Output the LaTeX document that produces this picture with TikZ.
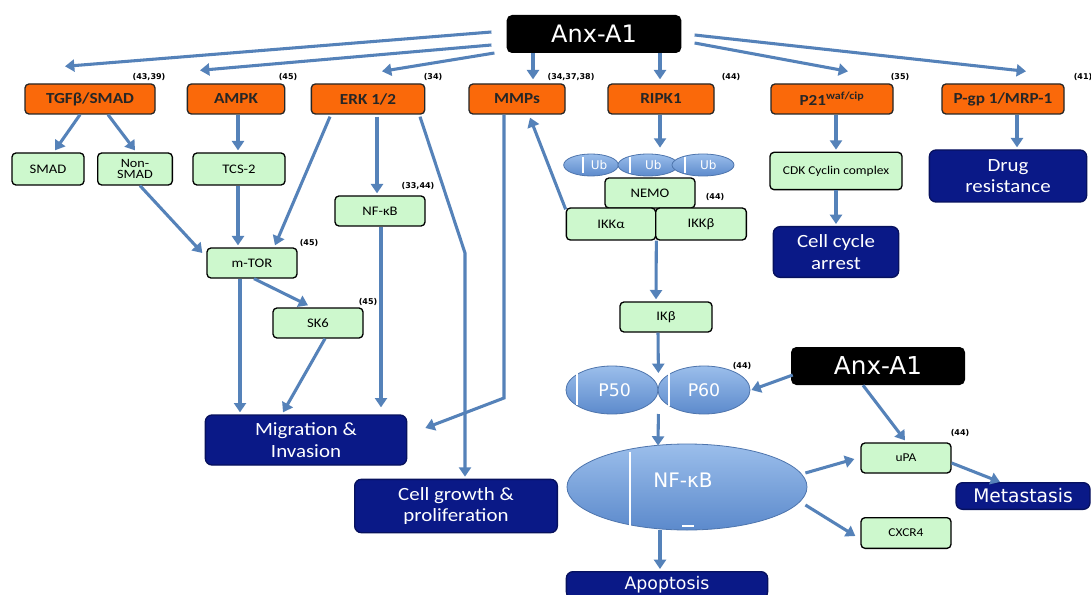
\documentclass[tikz,border=0pt]{standalone}
\usepackage{fontspec}
\setmainfont[FakeStretch=1.12]{Carlito}
\newfontfamily\dv{DejaVu Sans}
\usetikzlibrary{arrows.meta,shapes.geometric}
\definecolor{arr}{RGB}{85,130,185}
\definecolor{org}{RGB}{250,105,10}
\definecolor{grn}{RGB}{205,248,205}
\definecolor{navy}{RGB}{10,25,135}
\definecolor{ellt}{RGB}{155,190,235}
\definecolor{ellb}{RGB}{92,138,204}
\begin{document}
\begin{tikzpicture}[x=0.75pt,y=-0.75pt,
 ob/.style={draw=black!85, line width=1pt, rounded corners=3pt, fill=org, font=\bfseries\fontsize{11.5}{12}\selectfont, text=black!85, inner sep=0pt, minimum height=22.5pt},
 gb/.style={draw=black, line width=1pt, rounded corners=3pt, fill=grn, font=\fontsize{9.8}{9.8}\selectfont, inner sep=0pt, align=center},
 nb/.style={draw=navy!70!black, line width=1pt, rounded corners=5pt, fill=navy, text=white, font=\fontsize{14}{16}\selectfont, align=center, inner sep=0pt},
 kb/.style={fill=black, rounded corners=4pt, text=white, font=\dv\fontsize{18}{20}\selectfont, inner sep=0pt},
 el/.style={ellipse, draw=ellb!85!black, line width=0.6pt, top color=ellt, bottom color=ellb, text=white, inner sep=0pt},
 ref/.style={font=\dv\bfseries\fontsize{6}{6.5}\selectfont, inner sep=0pt},
 wl/.style={draw=white, line width=1pt},
 ar/.style={draw=arr, line width=2.3pt, -{Triangle[width=9pt,length=7pt]}},
]
\useasboundingbox (0,0) rectangle (1091,595);
\clip (0,0) rectangle (1091,595);
\fill[white] (0,0) rectangle (1091,595);

% top row
\node[kb, minimum width=131pt, minimum height=28.5pt] (anx1) at (594,34) {Anx-A1};
\node[ob, minimum width=97.5pt] (tgf) at (90,99) {TGFβ/SMAD};
\node[ob, minimum width=73pt] (ampk) at (236,99) {AMPK};
\node[ob, minimum width=85pt] (erk) at (368,99) {ERK 1/2};
\node[ob, minimum width=72pt] (mmp) at (517,99) {MMPs};
\node[ob, minimum width=79.5pt] (ripk) at (661,99) {RIPK1};
\node[ob, minimum width=91.5pt] (p21) at (832,99) {P21\textsuperscript{waf/cip}};
\node[ob, minimum width=91.5pt] (pgp) at (1003,99) {P-gp 1/MRP-1};

% references
\node[ref] (r1) at (149,77) {(43,39)};
\node[ref] (r2) at (288,77) {(45)};
\node[ref] (r3) at (433,77) {(34)};
\node[ref] (r4) at (571,77) {(34,37,38)};
\node[ref] (r5) at (731,77) {(44)};
\node[ref] (r6) at (900,77) {(35)};
\node[ref] (r7) at (1083,77) {(41)};
\node[ref] (r8) at (418,186) {(33,44)};
\node[ref] (r9) at (309,243) {(45)};
\node[ref] (r10) at (368,302) {(45)};
\node[ref] (r11) at (715,197) {(44)};
\node[ref] (r12) at (742,366) {(44)};
\node[ref] (r13) at (960,433) {(44)};

% green boxes
\node[gb, minimum width=54pt, minimum height=24pt] (smad) at (48,169) {SMAD};
\node[gb, minimum width=56pt, minimum height=24pt, font=\fontsize{9.5}{8.5}\selectfont] (nonsmad) at (135,169) {Non-\\SMAD};
\node[gb, minimum width=69pt, minimum height=24pt] (tcs) at (239,169) {TCS-2};
\node[gb, minimum width=67.5pt, minimum height=22.5pt] (nfkbg) at (380,211) {NF-κB};
\node[gb, minimum width=67.5pt, minimum height=22.5pt] (mtor) at (252,263) {m-TOR};
\node[gb, minimum width=67.5pt, minimum height=22.5pt] (sk6) at (318,323) {SK6};
\node[gb, minimum width=99pt, minimum height=28pt, font=\fontsize{9}{9}\selectfont] (cdk) at (836,171) {CDK Cyclin complex};

% Ub chain
\node[el, minimum width=41pt, minimum height=16.5pt, font=\dv\fontsize{9}{9}\selectfont] (ub1) at (591,165) {\hspace*{12pt}Ub};
\node[el, minimum width=45pt, minimum height=16.5pt, font=\dv\fontsize{9}{9}\selectfont] (ub2) at (648,165) {\hspace*{8pt}Ub};
\node[el, minimum width=46.5pt, minimum height=16.5pt, font=\dv\fontsize{9}{9}\selectfont] (ub3) at (703,165) {\hspace*{8pt}Ub};
\draw[wl] (583,157) -- (583,173);
\draw[wl] (630,157) -- (630,173);
\draw[wl] (685,157) -- (685,173);
\node[gb, minimum width=67.5pt, minimum height=22.5pt] (nemo) at (650,193) {NEMO};
\node[gb, minimum width=67pt, minimum height=24pt] (ikka) at (611,224) {IKKα};
\node[gb, minimum width=68pt, minimum height=24pt] (ikkb) at (701,224) {IKKβ};
\node[gb, minimum width=69pt, minimum height=22.5pt] (ikb) at (666,317) {IKβ};

% P50 / P60 / NF-kB
\node[el, minimum width=69pt, minimum height=36pt, font=\dv\fontsize{13}{14}\selectfont] (p50) at (612,390) {\hspace*{4pt}P50};
\node[el, minimum width=69pt, minimum height=36pt, font=\dv\fontsize{13}{14}\selectfont] (p60) at (704,390) {P60};
\draw[wl] (577,372) -- (577,405);
\draw[wl] (669,373) -- (669,406);
\node[el, minimum width=180pt, minimum height=64.5pt] (nfkb) at (687,487) {};
\node[text=white, font=\dv\fontsize{15}{16}\selectfont, inner sep=0pt] (nfkbt) at (683,480) {NF-κB};
\draw[wl] (630,452) -- (630,526);
\draw[wl] (682,526) -- (694,526);

\node[gb, minimum width=67.5pt, minimum height=22.5pt, font=\fontsize{9}{9}\selectfont] (upa) at (906,458) {uPA};
\node[gb, minimum width=67.5pt, minimum height=23pt, font=\fontsize{9}{9}\selectfont] (cxcr) at (906,533) {CXCR4};
\node[kb, minimum width=130.5pt, minimum height=28.5pt, font=\dv\fontsize{18.5}{20}\selectfont] (anx2) at (878,366) {Anx-A1};

% outcome boxes
\node[nb, minimum width=118pt, minimum height=39pt] (drug) at (1008,176) {Drug\\resistance};
\node[nb, minimum width=94pt, minimum height=38pt] (cca) at (836,252) {Cell cycle\\arrest};
\node[nb, minimum width=151pt, minimum height=37.5pt] (mig) at (306,440) {Migration \&\\Invasion};
\node[nb, minimum width=152pt, minimum height=40pt] (cgp) at (456,506) {Cell growth \&\\proliferation};
\node[nb, minimum width=100.5pt, minimum height=20pt, font=\dv\fontsize{14}{15}\selectfont] (meta) at (1023,496) {Metastasis};
\node[nb, minimum width=151pt, minimum height=20pt, font=\dv\fontsize{13}{14}\selectfont] (apop) at (667,585) {Apoptosis};

% arrows from Anx-A1
\draw[ar] ([shift={(-15,-2)}]anx1.west) -- ([shift={(-25,-17)}]tgf.north);
\draw[ar] ([shift={(-15,11)}]anx1.west) -- ([shift={(-36,-13)}]ampk.north);
\draw[ar] ([shift={(-12,19)}]anx1.west) -- ([shift={(14,-12)}]erk.north);
\draw[ar] ([shift={(-61,0)}]anx1.south) -- ([shift={(16,-4)}]mmp.north);
\draw[ar] ([shift={(66,0)}]anx1.south) -- ([shift={(-1,-4)}]ripk.north);
\draw[ar] ([shift={(13,9)}]anx1.east) -- ([shift={(16,-12)}]p21.north);
\draw[ar] ([shift={(13,1)}]anx1.east) -- ([shift={(23,-12)}]pgp.north);

% left branch
\draw[ar] ([shift={(-10,0)}]tgf.south) -- ([shift={(7,-2)}]smad.north);
\draw[ar] ([shift={(18,0)}]tgf.south) -- ([shift={(0,-2)}]nonsmad.north);
\draw[ar] ([shift={(2,0)}]ampk.south) -- ([shift={(-1,-2)}]tcs.north);
\draw[ar] ([shift={(-38,2)}]erk.south) -- ([shift={(23,-2)}]mtor.north);
\draw[ar] ([shift={(9,2)}]erk.south) -- ([shift={(-3,-2)}]nfkbg.north);
\draw[ar] ([shift={(52,2)}]erk.south) -- (465,253) -- ([shift={(9,-2)}]cgp.north);
\draw[ar] ([shift={(-13,0)}]mmp.south) -- (504,398) -- ([shift={(18,-12)}]mig.east);
\draw[ar] ([shift={(0,2)}]ikka.north west) -- ([shift={(13,3)}]mmp.south);
\draw[ar] ([shift={(5,0)}]nonsmad.south) -- ([shift={(-4,-10)}]mtor.west);
\draw[ar] ([shift={(-1,0)}]tcs.south) -- ([shift={(-14,-2)}]mtor.north);
\draw[ar] ([shift={(-12,0)}]mtor.south) -- ([shift={(-66,-2)}]mig.north);
\draw[ar] ([shift={(2,0)}]mtor.south) -- ([shift={(-10,-2)}]sk6.north);
\draw[ar] ([shift={(7,0)}]sk6.south) -- ([shift={(-23,-2)}]mig.north);
\draw[ar] ([shift={(1,0)}]nfkbg.south) -- ([shift={(75,-7)}]mig.north);

% NF-kB pathway
\draw[ar] ([shift={(-1,0)}]ripk.south) -- ([shift={(12,-6)}]ub2.north);
\draw[ar] (ikka.south east) -- ([shift={(-10,-2)}]ikb.north);
\draw[ar] ([shift={(-8,0)}]ikb.south) -- ([shift={(0,-17)}]p50.east);
\draw[ar] ([shift={(0,24)}]p50.east) -- ([shift={(-29,2)}]nfkb.north);
\draw[ar] ([shift={(-27,0)}]nfkb.south) -- ([shift={(-7,-2)}]apop.north);
\draw[ar] ([shift={(2,9)}]anx2.west) -- ([shift={(1,0)}]p60.east);
\draw[ar] ([shift={(-15,0)}]anx2.south) -- ([shift={(-1,-2)}]upa.north);
\draw[ar] ([shift={(-2,-14)}]nfkb.east) -- ([shift={(-6,1)}]upa.west);
\draw[ar] ([shift={(0,5)}]upa.east) -- ([shift={(-23,0)}]meta.north);
\draw[ar] ([shift={(-2,18)}]nfkb.east) -- ([shift={(-5,3)}]cxcr.west);

% right branches
\draw[ar] ([shift={(4,0)}]p21.south) -- ([shift={(0,-2)}]cdk.north);
\draw[ar] (cdk.south) -- ([shift={(0,-2)}]cca.north);
\draw[ar] ([shift={(14,0)}]pgp.south) -- ([shift={(9,-2)}]drug.north);
\end{tikzpicture}
\end{document}
